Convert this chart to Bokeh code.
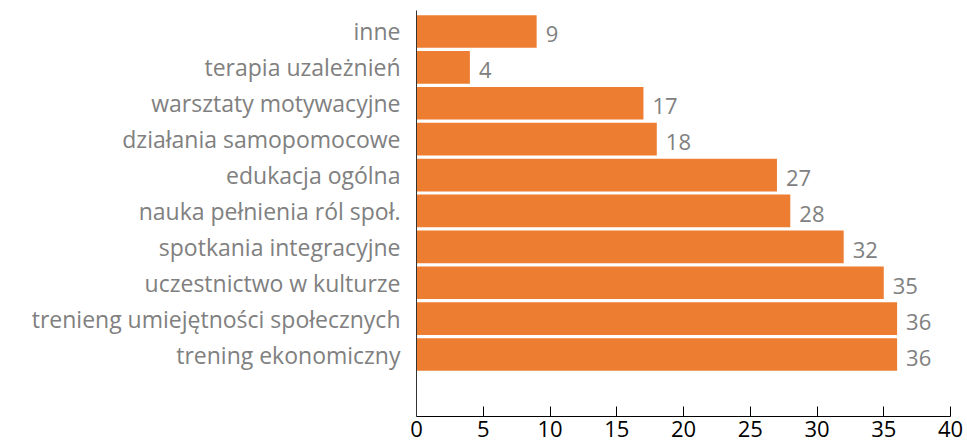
from bokeh.plotting import figure
from bokeh.models import ColumnDataSource, FixedTicker, Range1d, LabelSet
from bokeh.core.properties import value
from bokeh.embed import file_html
from bokeh.resources import INLINE

categories = ["trening ekonomiczny", "trenieng umiejętności społecznych", "uczestnictwo w kulturze",
              "spotkania integracyjne", "nauka pełnienia ról społ.", "edukacja ogólna",
              "działania samopomocowe", "warsztaty motywacyjne", "terapia uzależnień", "inne"]
values = [36, 36, 35, 32, 28, 27, 18, 17, 4, 9]
x_ticks = [0, 5, 10, 15, 20, 25, 30, 35, 40]

pos = list(range(len(categories)))
src = ColumnDataSource(dict(y=pos, v=values, lab=[str(v) for v in values]))

p = figure(width=967, height=443, output_backend="svg", toolbar_location=None,
           x_range=Range1d(0, 40), y_range=Range1d(-1.727, 9.585),
           min_border_left=416, min_border_right=17, min_border_top=10, min_border_bottom=27)
p.outline_line_color = None
p.grid.grid_line_color = None
p.background_fill_color = "white"

p.hbar(y="y", right="v", left=0, height=0.91, source=src, fill_color="#ED7D31", line_color=None)

labels = LabelSet(x="v", y="y", text="lab", source=src, x_offset=9, y_offset=-3,
                  text_font=value("Open Sans"), text_font_size="22px", text_color="#808080",
                  text_baseline="middle")
p.add_layout(labels)

xa = p.xaxis[0]
xa.ticker = FixedTicker(ticks=x_ticks)
xa.major_tick_in = 10
xa.major_tick_out = 0
xa.minor_tick_line_color = None
xa.axis_line_color = "black"
xa.major_tick_line_color = "black"
xa.major_label_text_font = "Open Sans"
xa.major_label_text_font_size = "22px"
xa.major_label_text_color = "black"
xa.major_label_standoff = 4

ya = p.yaxis[0]
ya.ticker = FixedTicker(ticks=pos)
ya.major_label_overrides = {i: c for i, c in enumerate(categories)}
ya.major_tick_in = 0
ya.major_tick_out = 0
ya.minor_tick_line_color = None
ya.axis_line_color = "#333333"
ya.major_label_text_font = "Open Sans"
ya.major_label_text_font_size = "23px"
ya.major_label_text_color = "#808080"
ya.major_label_standoff = 16

open("out.html", "w").write(file_html(p, INLINE))
